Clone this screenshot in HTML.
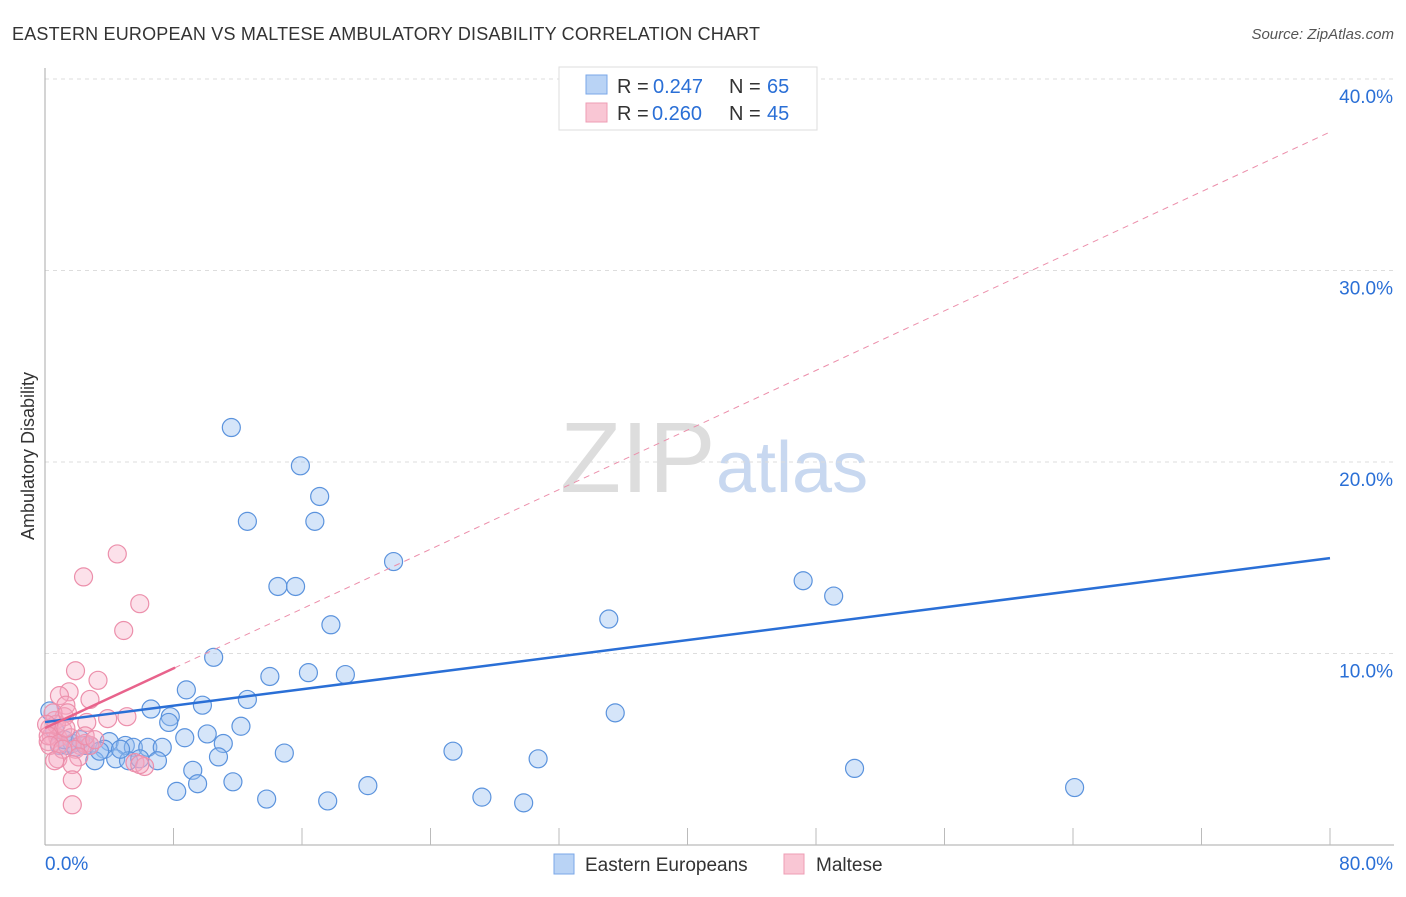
<!DOCTYPE html>
<html><head><meta charset="utf-8"><style>
body{margin:0;background:#fff;font-family:"Liberation Sans",sans-serif}
svg text{font-family:"Liberation Sans",sans-serif}
</style></head><body>
<svg id="c" width="1406" height="892">
<text x="12" y="40" font-size="18" fill="#333" textLength="748">EASTERN EUROPEAN VS MALTESE AMBULATORY DISABILITY CORRELATION CHART</text>
<text x="1394" y="39" font-size="15" fill="#555" text-anchor="end" font-style="italic">Source: ZipAtlas.com</text>
<text x="560" y="492" font-size="100" fill="#ddd" font-family="Liberation Serif">ZIP</text>
<text x="716" y="492" font-size="72" fill="#c8d8f0">atlas</text>
<text transform="translate(34,456) rotate(-90)" font-size="18" fill="#333" text-anchor="middle">Ambulatory Disability</text>
<g id="grid"></g><g id="marks"></g>
<g>
<rect x="559" y="67" width="258" height="63" fill="#fff" stroke="#ddd"/>
<rect x="586" y="75" width="21" height="19" fill="#b9d3f5" stroke="#7aa7e8"/>
<rect x="586" y="103" width="21" height="19" fill="#f9c6d4" stroke="#ee9db4"/>
<text x="617" y="93" font-size="20" fill="#333">R =</text>
<text x="653" y="93" font-size="20" fill="#2a6fd6">0.247</text>
<text x="729" y="93" font-size="20" fill="#333">N =</text>
<text x="767" y="93" font-size="20" fill="#2a6fd6">65</text>
<text x="617" y="120" font-size="20" fill="#333">R =</text>
<text x="652" y="120" font-size="20" fill="#2a6fd6">0.260</text>
<text x="729" y="120" font-size="20" fill="#333">N =</text>
<text x="767" y="120" font-size="20" fill="#2a6fd6">45</text>
</g>
<g>
<rect x="554" y="854" width="20" height="20" fill="#b9d3f5" stroke="#7aa7e8"/>
<text x="585" y="871" font-size="19" fill="#333">Eastern Europeans</text>
<rect x="784" y="854" width="20" height="20" fill="#f9c6d4" stroke="#ee9db4"/>
<text x="816" y="871" font-size="19" fill="#333">Maltese</text>
</g>
</svg>
<script>
const yTicks=[10,20,30,40];
const yTickLabels=["10.0%","20.0%","30.0%","40.0%"];
const blueX=[11.6,15.9,17.1,12.6,16.8,21.7,14.5,15.6,17.8,47.2,49.1,35.1,10.5,14.0,16.4,18.7,8.8,9.8,12.6,6.6,7.8,7.7,12.2,8.7,10.1,11.1,35.5,4.0,5.0,5.5,6.4,7.3,14.9,25.4,30.7,10.8,3.7,4.4,3.1,5.2,7.0,9.2,50.4,11.7,9.5,8.2,13.8,17.6,20.1,27.2,29.8,64.1,0.9,1.4,1.7,1.9,2.5,2.8,0.3,0.6,1.2,3.4,5.9,4.7,2.2];
const blueY=[21.8,19.8,18.2,16.9,16.9,14.8,13.5,13.5,11.5,13.8,13.0,11.8,9.8,8.8,9.0,8.9,8.1,7.3,7.6,7.1,6.7,6.4,6.2,5.6,5.8,5.3,6.9,5.4,5.2,5.1,5.1,5.1,4.8,4.9,4.5,4.6,5.0,4.5,4.4,4.4,4.4,3.9,4.0,3.3,3.2,2.8,2.4,2.3,3.1,2.5,2.2,3.0,5.2,5.2,5.3,5.1,5.2,5.2,7.0,6.0,5.5,4.9,4.5,5.0,5.5];
const pinkX=[4.5,2.4,5.9,4.9,1.9,3.3,1.5,0.9,2.8,1.3,1.2,3.9,5.1,2.6,0.6,0.3,0.4,0.8,0.2,1.1,1.6,2.2,2.5,2.8,1.9,2.1,0.8,1.7,1.7,1.7,5.6,6.2,5.9,0.7,0.5,1.4,0.1,0.2,0.9,1.3,2.5,3.1,0.3,1.1,0.6];
const pinkY=[15.2,14.0,12.6,11.2,9.1,8.6,8.0,7.8,7.6,7.3,6.7,6.6,6.7,6.4,6.5,6.1,5.7,5.6,5.4,6.0,5.6,5.2,5.3,5.2,5.0,4.6,4.5,4.2,3.4,2.1,4.3,4.1,4.2,6.3,6.9,6.9,6.3,5.7,5.3,6.1,5.7,5.5,5.2,5.0,4.4];
const blueTrend=[6.42,0.107];
const pinkTrend=[6.11,0.389];
const pinkSolidEnd=8.1;
const X=v=>45+v*16.0625, Y=v=>845-v*19.15;
const NS="http://www.w3.org/2000/svg";
function mk(t,a,p){const e=document.createElementNS(NS,t);for(const k in a)e.setAttribute(k,a[k]);p.appendChild(e);return e;}
const g=document.getElementById('grid'), m=document.getElementById('marks');
yTicks.forEach((t,i)=>{
 const l=mk('line',{x1:45,x2:1394,y1:Y(t),y2:Y(t),stroke:'#ddd','stroke-dasharray':'4,4'},g);
 
 
 const tx=mk('text',{x:1393,y:Y(t)+24,'font-size':19,fill:'#2a6fd6','text-anchor':'end'},g);
 tx.textContent=yTickLabels[i];
 
 
});
mk('line',{x1:45,x2:45,y1:68,y2:845,stroke:'#aaa'},g);
mk('line',{x1:45,x2:1394,y1:845,y2:845,stroke:'#aaa'},g);
for(let i=1;i<=10;i++){const t=mk('line',{x1:X(i*8),x2:X(i*8),y1:828,y2:845,stroke:'#bbb'},g);
 
 }
const x0=mk('text',{x:45,y:870,'font-size':19,fill:'#2a6fd6'},g);x0.textContent='0.0%';


const x1=mk('text',{x:1393,y:870,'font-size':19,fill:'#2a6fd6','text-anchor':'end'},g);x1.textContent='80.0%';


blueX.forEach((v,i)=>{const c=mk('circle',{cx:X(v),cy:Y(blueY[i]),r:9,fill:'rgba(150,190,240,0.4)',stroke:'#5b93dd','stroke-width':1.2},m);
 
 });
pinkX.forEach((v,i)=>{const c=mk('circle',{cx:X(v),cy:Y(pinkY[i]),r:9,fill:'rgba(245,170,195,0.35)',stroke:'#ec8fab','stroke-width':1.2},m);
 
 });
const bl=mk('line',{x1:X(0),y1:Y(blueTrend[0]),x2:X(80),y2:Y(blueTrend[0]+80*blueTrend[1]),stroke:'#2a6fd6','stroke-width':2.5},m);


const pd=mk('line',{x1:X(0),y1:Y(pinkTrend[0]),x2:X(80),y2:Y(pinkTrend[0]+80*pinkTrend[1]),stroke:'#ec8fab','stroke-width':1,'stroke-dasharray':'6,5'},m);


const ps=mk('line',{x1:X(0),y1:Y(pinkTrend[0]),x2:X(pinkSolidEnd),y2:Y(pinkTrend[0]+pinkSolidEnd*pinkTrend[1]),stroke:'#e8638c','stroke-width':2.5},m);


</script>
</body></html>
